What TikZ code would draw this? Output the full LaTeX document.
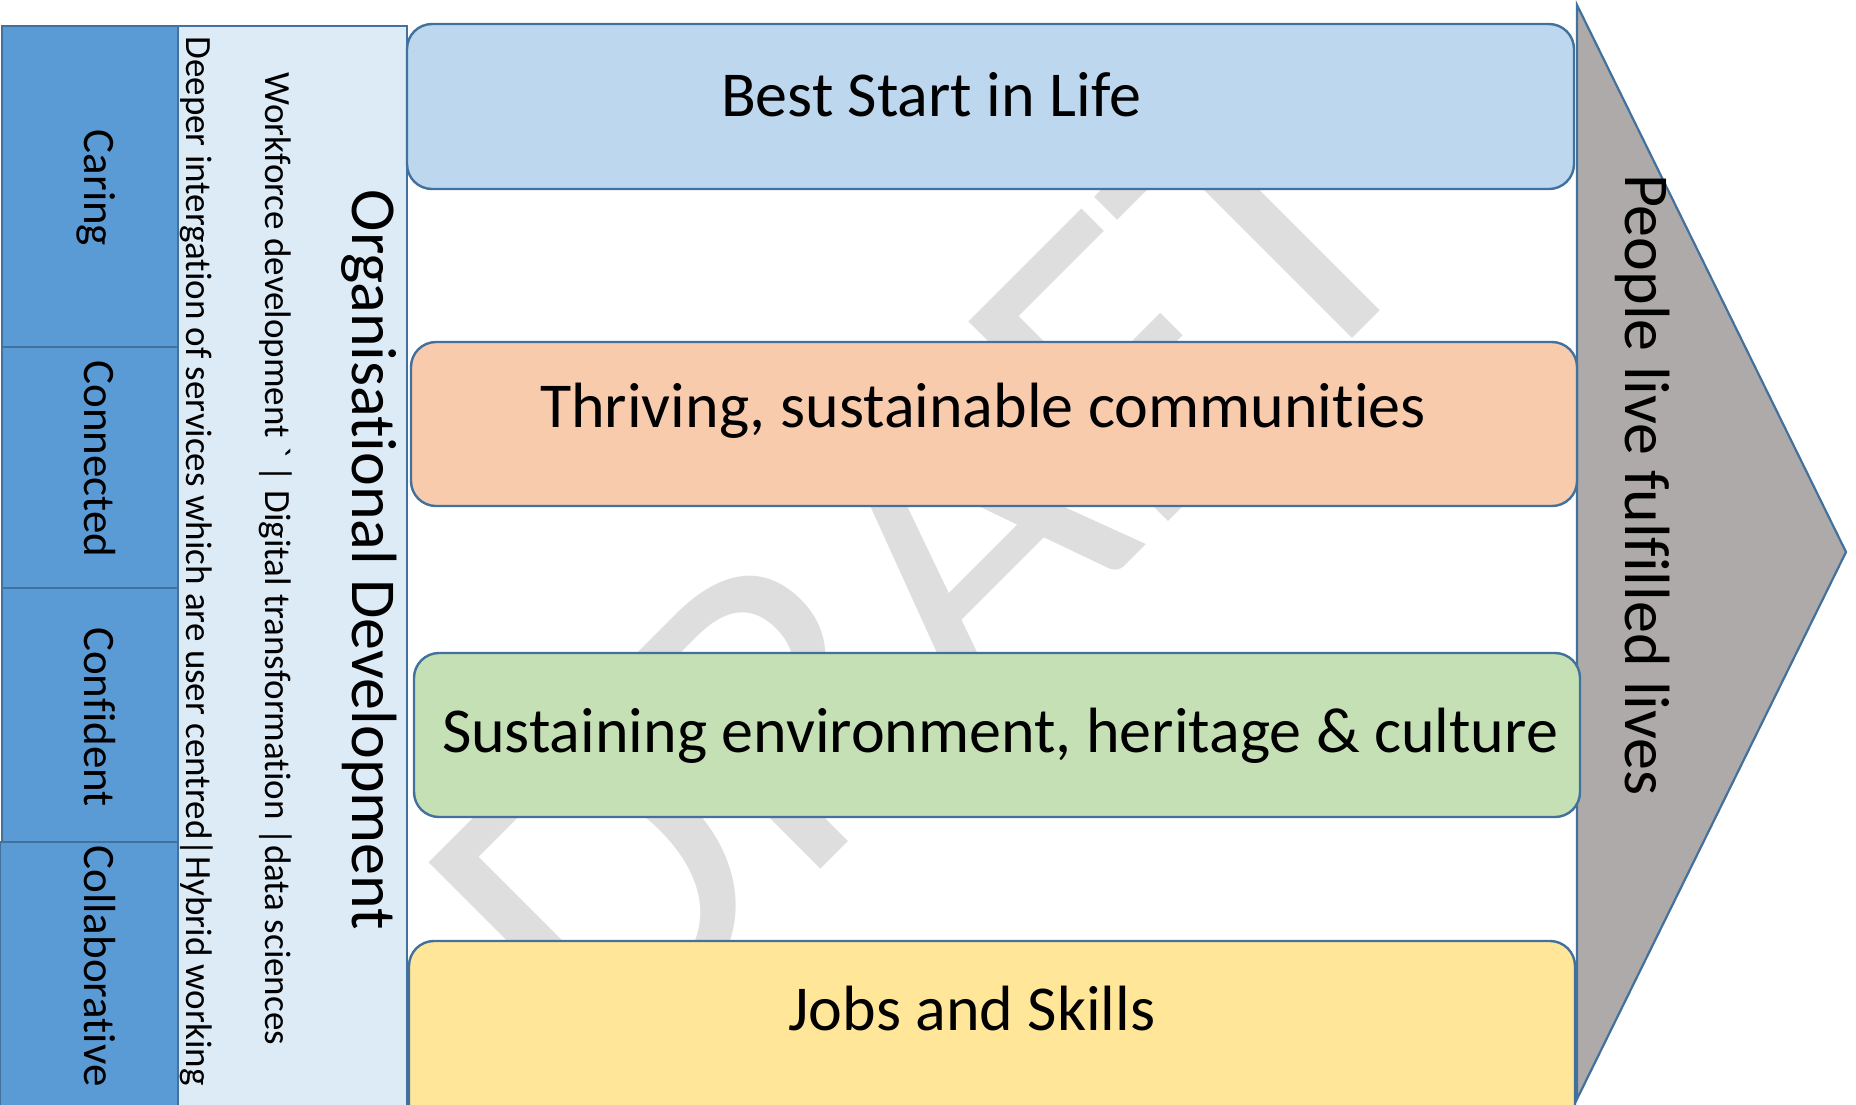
\documentclass[tikz,border=0pt]{standalone}
\usepackage{fontspec}
\setmainfont{Carlito}[Ligatures=NoCommon, RawFeature={-liga;-clig;-calt;-dlig}]
\definecolor{cellblue}{HTML}{5B9BD5}
\definecolor{edgeblue}{HTML}{41719C}
\definecolor{panelblue}{HTML}{DDEBF7}
\definecolor{goalA}{HTML}{BDD7EE}
\definecolor{goalB}{HTML}{F8CBAD}
\definecolor{goalC}{HTML}{C5E0B4}
\definecolor{goalD}{HTML}{FFE699}
\definecolor{arrowgray}{HTML}{AEAAAA}
\definecolor{wmgray}{HTML}{DEDEDE}
\tikzset{
  cellbox/.style={draw=edgeblue, fill=cellblue, line width=2.2pt, inner sep=0pt, rectangle},
  panelbox/.style={draw=edgeblue, fill=panelblue, line width=2.2pt, inner sep=0pt, rectangle},
  goalbox/.style={draw=edgeblue, line width=2.4pt, rounded corners=25pt, inner sep=0pt, rectangle},
  goaltext/.style={anchor=base, inner sep=0pt, font=\fontsize{64}{70}\selectfont},
  celltext/.style={anchor=base, rotate=-90, inner sep=0pt, font=\fontsize{45}{50}\selectfont},
  odtext/.style={anchor=base, rotate=-90, inner sep=0pt, font=\fontsize{64}{70}\selectfont},
  smalltext/.style={anchor=base, rotate=-90, inner sep=0pt, font=\fontsize{37}{40}\selectfont},
  wmtext/.style={rotate=45, inner sep=0pt, text=wmgray, font=\fontsize{440}{440}\selectfont},
}
\begin{document}
\begin{tikzpicture}[x=1pt,y=-1pt]
\useasboundingbox (0,0) rectangle (1856,1104);
\fill[white] (0,0) rectangle (1856,1104);
% watermark
\node[wmtext] (wm) at (925,566) {DRAFT};
% left values column
\node[cellbox, minimum width=176pt, minimum height=321pt] (c1) at (90,186.5) {};
\node[cellbox, minimum width=176pt, minimum height=241pt] (c2) at (90,467.5) {};
\node[cellbox, minimum width=176pt, minimum height=254pt] (c3) at (90,715) {};
\node[cellbox, minimum width=178pt, minimum height=290pt] (c4) at (89,987) {};
\node[celltext] (t1) at (84,188) {Caring};
\node[celltext] (t2) at (84,459) {Connected};
\node[celltext] (t3) at (84,717) {Confident};
\node[celltext] (t4) at (84,966) {Collaborative};
% organisational development panel
\node[panelbox, minimum width=229pt, minimum height=1100pt] (od) at (292.5,576) {};
\node[smalltext] (deep) at (186,561) {Deeper intergation of services which are user centred|Hybrid working};
\node[smalltext] (work) at (265,559) {Workforce development \textasciigrave{} | Digital transformation |data sciences};
\node[odtext] (odt) at (352,560) {Organisational Development};
% outcome arrow
\draw[draw=edgeblue, fill=arrowgray, line width=2.2pt, line join=miter] (1577,5) -- (1846,552) -- (1577,1099) -- cycle;
\node[odtext] (out) at (1625,485) {People live fulfilled lives};
% priority boxes
\node[goalbox, fill=goalA, minimum width=1167pt, minimum height=165pt] (g1) at (990.5,106.5) {};
\node[goalbox, fill=goalB, minimum width=1166pt, minimum height=164pt] (g2) at (994,424) {};
\node[goalbox, fill=goalC, minimum width=1166pt, minimum height=164pt] (g3) at (997,735) {};
\node[goalbox, fill=goalD, minimum width=1166pt, minimum height=189pt] (g4) at (992,1035.5) {};
\node[goaltext] (gt1) at (931,116) {Best Start in Life};
\node[goaltext] (gt2) at (983,427) {Thriving, sustainable communities};
\node[goaltext] (gt3) at (1000,752) {Sustaining environment, heritage \& culture};
\node[goaltext] (gt4) at (972,1030) {Jobs and Skills};
\end{tikzpicture}
\end{document}
